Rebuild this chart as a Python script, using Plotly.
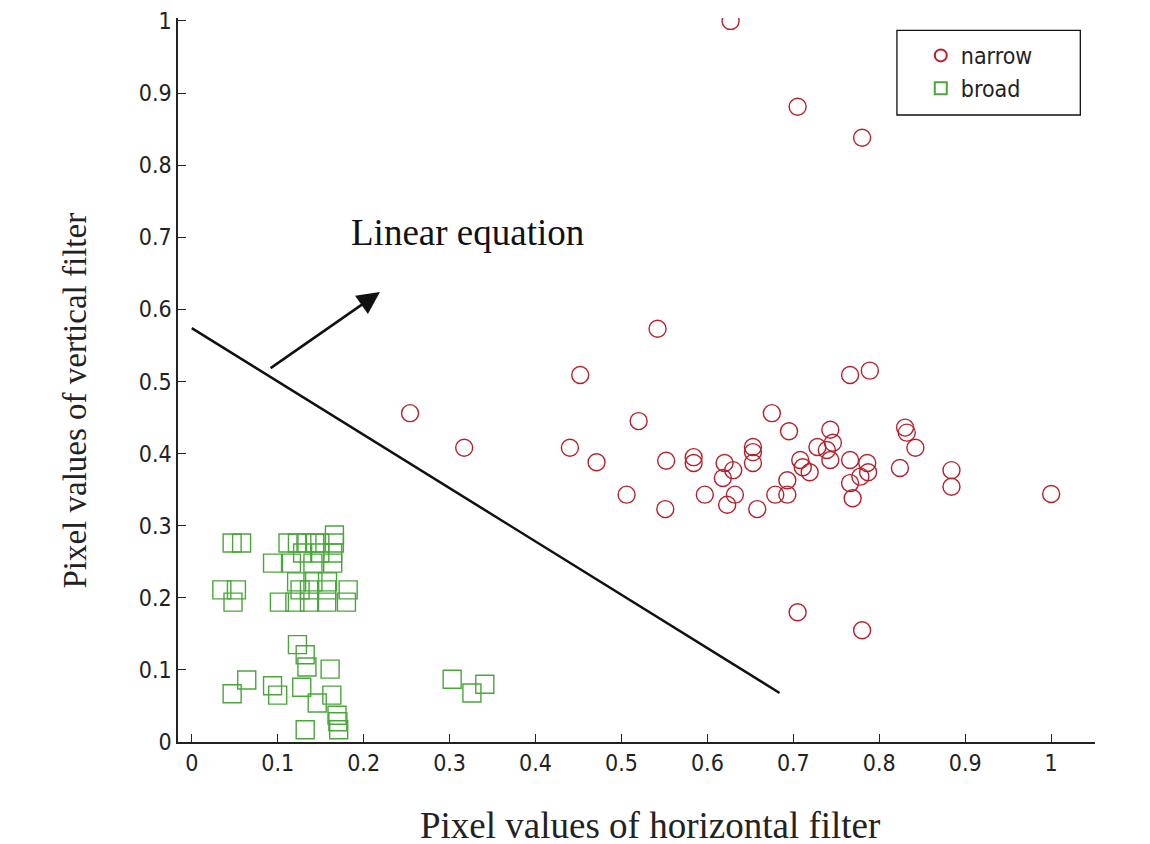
import plotly.graph_objects as go

# ---- data ----
narrow_x = [0.627, 0.705, 0.780, 0.542, 0.452, 0.766, 0.789, 0.520, 0.675, 0.695,
            0.743, 0.830, 0.832, 0.842, 0.440, 0.471, 0.552, 0.584, 0.584, 0.653,
            0.653, 0.653, 0.620, 0.630, 0.618, 0.708, 0.711, 0.719, 0.728, 0.739,
            0.746, 0.743, 0.766, 0.786, 0.787, 0.778, 0.766, 0.769, 0.824, 0.506,
            0.551, 0.597, 0.623, 0.632, 0.658, 0.679, 0.693, 0.693, 0.254, 0.317,
            0.884, 0.884, 1.000, 0.705, 0.780]
narrow_y = [1.000, 0.881, 0.838, 0.573, 0.509, 0.509, 0.515, 0.445, 0.456, 0.431,
            0.433, 0.436, 0.429, 0.408, 0.408, 0.388, 0.390, 0.395, 0.387, 0.409,
            0.402, 0.387, 0.387, 0.377, 0.366, 0.391, 0.381, 0.374, 0.409, 0.405,
            0.415, 0.391, 0.391, 0.387, 0.374, 0.368, 0.359, 0.338, 0.380, 0.343,
            0.323, 0.343, 0.329, 0.343, 0.323, 0.343, 0.343, 0.363, 0.456, 0.408,
            0.377, 0.354, 0.344, 0.180, 0.155]

broad_x = [0.047, 0.058, 0.112, 0.123, 0.134, 0.143, 0.149, 0.166, 0.166,
           0.094, 0.116, 0.141, 0.164, 0.129, 0.149, 0.164,
           0.122, 0.141, 0.158, 0.035, 0.052, 0.126, 0.137, 0.157, 0.182,
           0.048, 0.102, 0.120, 0.137, 0.157, 0.180,
           0.123, 0.132, 0.134, 0.161, 0.064, 0.047, 0.094, 0.100, 0.128,
           0.163, 0.146, 0.169, 0.170, 0.171, 0.132, 0.303, 0.326, 0.341]
broad_y = [0.276, 0.276, 0.276, 0.276, 0.276, 0.276, 0.276, 0.276, 0.287,
           0.248, 0.248, 0.248, 0.248, 0.262, 0.262, 0.262,
           0.222, 0.222, 0.222, 0.211, 0.211, 0.211, 0.211, 0.211, 0.211,
           0.194, 0.194, 0.194, 0.194, 0.194, 0.194,
           0.135, 0.121, 0.104, 0.101, 0.086, 0.067, 0.078, 0.065, 0.076,
           0.065, 0.054, 0.037, 0.028, 0.017, 0.017, 0.087, 0.068, 0.080]

line_x = [0.0, 0.684]
line_y = [0.574, 0.068]

arrow_from = (0.090, 0.517)
arrow_to = (0.219, 0.624)

x_ticks = [0, 0.1, 0.2, 0.3, 0.4, 0.5, 0.6, 0.7, 0.8, 0.9, 1]
y_ticks = [0, 0.1, 0.2, 0.3, 0.4, 0.5, 0.6, 0.7, 0.8, 0.9, 1]

sans = "DejaVu Sans Condensed, Liberation Sans Narrow, Arial Narrow, sans-serif"
tick_font = dict(family=sans, size=23, color="#222")
serif = "Liberation Serif, Times New Roman, DejaVu Serif, serif"

fig = go.Figure()

fig.add_trace(go.Scatter(
    x=line_x, y=line_y, mode="lines",
    line=dict(color="#111", width=2.5), showlegend=False, hoverinfo="skip"))

fig.add_trace(go.Scatter(
    x=narrow_x, y=narrow_y, mode="markers", name="narrow",
    marker=dict(symbol="circle-open", size=17, color="#b91f2a",
                line=dict(width=1.4, color="#b91f2a"))))

fig.add_trace(go.Scatter(
    x=broad_x, y=broad_y, mode="markers", name="broad",
    marker=dict(symbol="square-open", size=18, color="#4aa63a",
                line=dict(width=1.4, color="#4aa63a"))))

fig.add_annotation(
    x=arrow_to[0], y=arrow_to[1], ax=arrow_from[0], ay=arrow_from[1],
    xref="x", yref="y", axref="x", ayref="y",
    showarrow=True, arrowhead=2, arrowsize=1.8, arrowwidth=2.5,
    arrowcolor="#111", text="")

fig.add_annotation(
    x=0.183, y=0.707, xref="x", yref="y", xanchor="left", yanchor="middle",
    text="Linear equation", showarrow=False,
    font=dict(family=serif, size=37, color="#111"))

# axis titles
fig.add_annotation(
    x=0.515, y=-0.115, xref="paper", yref="paper", xanchor="center", yanchor="middle",
    text="Pixel values of horizontal filter", showarrow=False,
    font=dict(family=serif, size=37, color="#222"))
fig.add_annotation(
    x=-0.112, y=0.472, xref="paper", yref="paper", xanchor="center", yanchor="middle",
    text="Pixel values of vertical filter", showarrow=False, textangle=-90,
    font=dict(family=serif, size=33, color="#222"))

# legend frame
fig.add_shape(type="rect", xref="paper", yref="paper",
              x0=0.784, x1=0.984, y0=0.866, y1=0.983,
              line=dict(color="#111", width=1.3), fillcolor="rgba(0,0,0,0)")

fig.update_layout(
    width=1150, height=844,
    margin=dict(l=170, r=63, t=10, b=110, autoexpand=False),
    paper_bgcolor="white", plot_bgcolor="white",
    showlegend=True,
    legend=dict(
        x=0.81, y=0.978, xanchor="left", yanchor="top",
        borderwidth=0, bgcolor="rgba(0,0,0,0)",
        font=dict(family=sans, size=23, color="#222"),
        itemsizing="constant", tracegroupgap=0),
    xaxis=dict(
        range=[-0.016, 1.051], tickvals=x_ticks,
        ticktext=[("%g" % v) for v in x_ticks], automargin=False,
        showgrid=False, zeroline=False, showline=True, linecolor="#222",
        linewidth=1.5, ticks="inside", ticklen=8, tickwidth=1.3, tickcolor="#222",
        tickfont=tick_font, mirror=False, ticklabeloverflow="allow"),
    yaxis=dict(
        range=[0, 1.004], tickvals=y_ticks,
        ticktext=[("%g" % v) for v in y_ticks], automargin=False,
        showgrid=False, zeroline=False, showline=True, linecolor="#222",
        linewidth=1.5, ticks="inside", ticklen=8, tickwidth=1.3, tickcolor="#222",
        tickfont=tick_font, mirror=False, ticklabeloverflow="allow"),
)

fig.write_html("out.html")
